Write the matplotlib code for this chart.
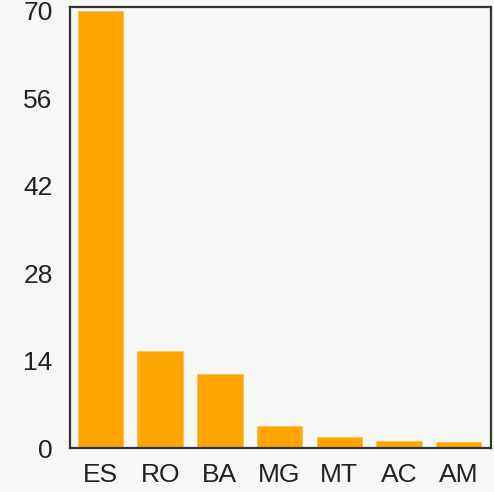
import matplotlib
matplotlib.use("Agg")
import matplotlib.pyplot as plt

# Bar values
states = ["ES", "RO", "BA", "MG", "MT", "AC", "AM"]
counts = [70, 15.6, 11.8, 3.5, 1.8, 1.2, 0.9]
yticks = [0, 14, 28, 42, 56, 70]

plt.rcParams["font.family"] = ["Liberation Sans", "DejaVu Sans"]

bg = "#f6f8f5"
fig = plt.figure(figsize=(4.94, 4.92), dpi=100, facecolor=bg)
ax = fig.add_axes([70 / 494, 44 / 492, 421 / 494, 440.5 / 492])
ax.set_facecolor(bg)

ax.bar(range(len(states)), counts, width=0.76, color="#FFA500",
       edgecolor="#ffc04d", linewidth=0.6)

ax.set_xlim(-0.51, 6.54)
ax.set_ylim(0, 70.5)
ax.set_yticks(yticks)
ax.set_xticks(range(len(states)))
ax.set_xticklabels(states)
ax.tick_params(axis="both", length=0, labelsize=19, colors="#222222")
ax.tick_params(axis="y", pad=12.5)
ax.tick_params(axis="x", pad=10.5)
for s in ax.spines.values():
    s.set_color("#333333")
    s.set_linewidth(1.6)

fig.savefig("out.png", dpi=100, facecolor=bg)
